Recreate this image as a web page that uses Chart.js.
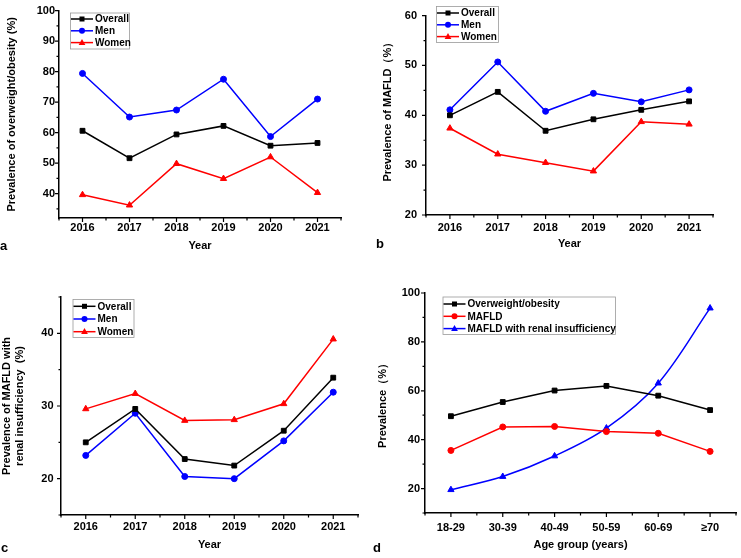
<!DOCTYPE html>
<html>
<head>
<meta charset="utf-8">
<script src="https://cdn.jsdelivr.net/npm/chart.js@4.4.0/dist/chart.umd.min.js"></script>
<style>
  html, body { margin: 0; padding: 0; background: #fff; }
  body { width: 741px; height: 558px; position: relative; overflow: hidden; }
  .panel { position: absolute; }
  .tag { position: absolute; font: bold 13px "Liberation Sans", Arial, sans-serif; line-height: 14px; color: #000; }
</style>
</head>
<body>
<div class="panel" id="pa" style="left:0;top:0;width:370px;height:280px"><canvas id="ca"></canvas></div>
<div class="panel" id="pb" style="left:370px;top:0;width:371px;height:280px"><canvas id="cb"></canvas></div>
<div class="panel" id="pc" style="left:0;top:280px;width:370px;height:278px"><canvas id="cc"></canvas></div>
<div class="panel" id="pd" style="left:370px;top:280px;width:371px;height:278px"><canvas id="cd"></canvas></div>
<div class="tag" style="left:0;top:239px">a</div>
<div class="tag" style="left:376px;top:237px">b</div>
<div class="tag" style="left:1px;top:541px">c</div>
<div class="tag" style="left:373px;top:541px">d</div>
<script>
const years = ['2016', '2017', '2018', '2019', '2020', '2021']
const ageGroups = ['18-29', '30-39', '40-49', '50-59', '60-69', '≥70']

// a: overweight/obesity by year
const obesityOverall = [60.6, 51.6, 59.4, 62.2, 55.7, 56.6]
const obesityMen = [79.4, 65.1, 67.4, 77.5, 58.7, 71.0]
const obesityWomen = [39.6, 36.2, 49.8, 44.9, 52.0, 40.3]

// b: MAFLD by year
const mafldOverall = [40.0, 44.7, 36.9, 39.2, 41.1, 42.8]
const mafldMen = [41.1, 50.7, 40.8, 44.4, 42.7, 45.1]
const mafldWomen = [37.4, 32.2, 30.5, 28.8, 38.7, 38.2]

// c: MAFLD with renal insufficiency by year
const renalOverall = [25.0, 29.6, 22.7, 21.8, 26.6, 33.9]
const renalMen = [23.2, 29.0, 20.3, 20.0, 25.2, 31.9]
const renalWomen = [29.6, 31.7, 28.0, 28.1, 30.3, 39.2]

// d: by age group
const ageObesity = [49.6, 55.4, 60.1, 62.0, 58.0, 52.1]
const ageMafld = [35.6, 45.2, 45.4, 43.3, 42.6, 35.2]
const ageRenal = [19.5, 24.9, 33.3, 44.7, 63.1, 93.8]

const FONT = '"Liberation Sans", Arial, sans-serif'
const BLACK = '#000000'
const BLUE = '#0000ff'
const RED = '#ff0000'

function series(label, data, color, style, tension) {
  return {
    label: label,
    data: data,
    borderColor: color,
    backgroundColor: color,
    borderWidth: 1.5,
    pointStyle: style,
    pointRadius: style === 'rect' ? 3.4 : (style === 'triangle' ? 3.6 : 3),
    pointBorderWidth: 1,
    tension: tension || 0
  }
}

// tick marks drawn Origin style: outward, with minor ticks
const tickMarks = {
  id: 'tickMarks',
  afterDraw(chart, args, opts) {
    const ctx = chart.ctx
    const x = chart.scales.x
    const y = chart.scales.y
    ctx.save()
    ctx.strokeStyle = BLACK
    ctx.lineWidth = 1.2
    ctx.beginPath()
    for (let v = Math.ceil(y.min / opts.minor) * opts.minor; v <= y.max + 1e-6; v += opts.minor) {
      const py = y.getPixelForValue(v)
      const len = Math.abs(v % opts.major) < 1e-6 ? 4 : 2.5
      ctx.moveTo(y.right, py)
      ctx.lineTo(y.right - len, py)
    }
    const n = x.getLabels().length
    for (let i = 0; i < n; i++) {
      const px = x.getPixelForValue(i)
      ctx.moveTo(px, x.top)
      ctx.lineTo(px, x.top + 4)
    }
    for (let i = 0; i <= n; i++) {
      const px = x.getPixelForValue(i - 0.5)
      ctx.moveTo(px, x.top)
      ctx.lineTo(px, x.top + 2.5)
    }
    ctx.stroke()
    ctx.restore()
  }
}

function marker(ctx, style, cx, cy, color) {
  ctx.fillStyle = color
  ctx.beginPath()
  if (style === 'rect') {
    ctx.rect(cx - 2.5, cy - 2.5, 5, 5)
  } else if (style === 'circle') {
    ctx.arc(cx, cy, 3, 0, Math.PI * 2)
  } else {
    ctx.moveTo(cx, cy - 3.6)
    ctx.lineTo(cx + 3.4, cy + 2.4)
    ctx.lineTo(cx - 3.4, cy + 2.4)
    ctx.closePath()
  }
  ctx.fill()
}

const boxLegend = {
  id: 'boxLegend',
  afterDatasetsDraw(chart, args, opts) {
    const ctx = chart.ctx
    ctx.save()
    ctx.fillStyle = '#fff'
    ctx.fillRect(opts.x, opts.y, opts.w, opts.h)
    ctx.strokeStyle = '#9a9a9a'
    ctx.lineWidth = 0.8
    ctx.strokeRect(opts.x + 0.5, opts.y + 0.5, opts.w, opts.h)
    chart.data.datasets.forEach(function(ds, i) {
      const cy = opts.y + opts.first + i * opts.row
      ctx.strokeStyle = ds.borderColor
      ctx.lineWidth = 1.5
      ctx.beginPath()
      ctx.moveTo(opts.x + 1, cy)
      ctx.lineTo(opts.x + 23, cy)
      ctx.stroke()
      marker(ctx, ds.pointStyle, opts.x + 12, cy, ds.borderColor)
      ctx.fillStyle = BLACK
      ctx.font = 'bold 10px ' + FONT
      ctx.textBaseline = 'middle'
      ctx.textAlign = 'left'
      ctx.fillText(ds.label, opts.x + 25, cy + 0.5)
    })
    ctx.restore()
  }
}

function makeChart(id, p) {
  return new Chart(document.getElementById(id), {
    type: 'line',
    data: { labels: p.labels, datasets: p.datasets },
    plugins: [tickMarks, boxLegend],
    options: {
      responsive: true,
      maintainAspectRatio: false,
      animation: false,
      events: [],
      layout: { padding: p.padding },
      plugins: {
        legend: { display: false },
        tooltip: { enabled: false },
        tickMarks: { minor: p.minor, major: p.major },
        boxLegend: p.legend
      },
      scales: {
        x: {
          type: 'category',
          offset: true,
          grid: { display: false, drawTicks: false },
          border: { display: true, color: BLACK, width: 1.5 },
          ticks: { color: BLACK, padding: p.xPad, maxRotation: 0, font: { family: FONT, size: 11, weight: 'bold' } },
          title: { display: true, text: p.xTitle, color: BLACK, padding: { top: 0, bottom: p.xTitlePad }, font: { family: FONT, size: 11, weight: 'bold' } },
          afterFit(scale) { scale.height = p.xHeight }
        },
        y: {
          min: p.min,
          max: p.max,
          grid: { display: false, drawTicks: false },
          border: { display: true, color: BLACK, width: 1.5 },
          ticks: {
            stepSize: p.minor,
            maxTicksLimit: 100,
            includeBounds: false,
            autoSkip: false,
            color: BLACK,
            padding: p.yPad,
            font: { family: FONT, size: 11, weight: 'bold' },
            callback: function(v) { return Math.abs(v % p.major) < 1e-6 ? v : '' }
          },
          title: { display: true, text: p.yTitle, color: BLACK, padding: { top: p.yTitlePad, bottom: 0 }, font: { family: FONT, size: 11, weight: 'bold' } },
          afterFit(scale) { scale.width = p.yWidth }
        }
      }
    }
  })
}

makeChart('ca', {
  labels: years,
  datasets: [
    series('Overall', obesityOverall, BLACK, 'rect'),
    series('Men', obesityMen, BLUE, 'circle'),
    series('Women', obesityWomen, RED, 'triangle')
  ],
  min: 32, max: 100, major: 10, minor: 5,
  padding: { left: 0, top: 10, right: 29, bottom: 0 },
  yWidth: 59, xHeight: 62, xPad: 3, yPad: 4, xTitlePad: 27, yTitlePad: 5,
  xTitle: 'Year', yTitle: 'Prevalence of overweight/obesity (%)',
  legend: { x: 70, y: 12.5, w: 59, h: 36, first: 6.5, row: 11.8 }
})

makeChart('cb', {
  labels: years,
  datasets: [
    series('Overall', mafldOverall, BLACK, 'rect'),
    series('Men', mafldMen, BLUE, 'circle'),
    series('Women', mafldWomen, RED, 'triangle')
  ],
  min: 20, max: 60, major: 10, minor: 5,
  padding: { left: 0, top: 5, right: 28, bottom: 0 },
  yWidth: 56, xHeight: 65, xPad: 6, yPad: 9, xTitlePad: 29, yTitlePad: 11,
  xTitle: 'Year', yTitle: '    Prevalence of MAFLD（%）',
  legend: { x: 66, y: 6, w: 62, h: 36, first: 7, row: 11.8 }
})

makeChart('cc', {
  labels: years,
  datasets: [
    series('Overall', renalOverall, BLACK, 'rect'),
    series('Men', renalMen, BLUE, 'circle'),
    series('Women', renalWomen, RED, 'triangle')
  ],
  min: 15, max: 45, major: 10, minor: 5,
  padding: { left: 0, top: 17, right: 12, bottom: 0 },
  yWidth: 61, xHeight: 43, xPad: 5.5, yPad: 7.5, xTitlePad: 6, yTitlePad: 0.5,
  xTitle: 'Year', yTitle: ['Prevalence of MAFLD with', 'renal insufficiency  (%)'],
  legend: { x: 72.5, y: 19, w: 61, h: 38, first: 7.3, row: 12.7 }
})

makeChart('cd', {
  labels: ageGroups,
  datasets: [
    series('Overweight/obesity', ageObesity, BLACK, 'rect'),
    series('MAFLD', ageMafld, RED, 'circle'),
    series('MAFLD with renal insufficiency', ageRenal, BLUE, 'triangle', 0.35)
  ],
  min: 10, max: 100, major: 20, minor: 10,
  padding: { left: 0, top: 13, right: 2, bottom: 0 },
  yWidth: 55, xHeight: 45, xPad: 8.5, yPad: 5, xTitlePad: 6, yTitlePad: 6,
  xTitle: 'Age group (years)', yTitle: 'Prevalence（%）',
  legend: { x: 72.5, y: 16.5, w: 172.5, h: 37.5, first: 7.5, row: 12.3 }
})
</script>
</body>
</html>
